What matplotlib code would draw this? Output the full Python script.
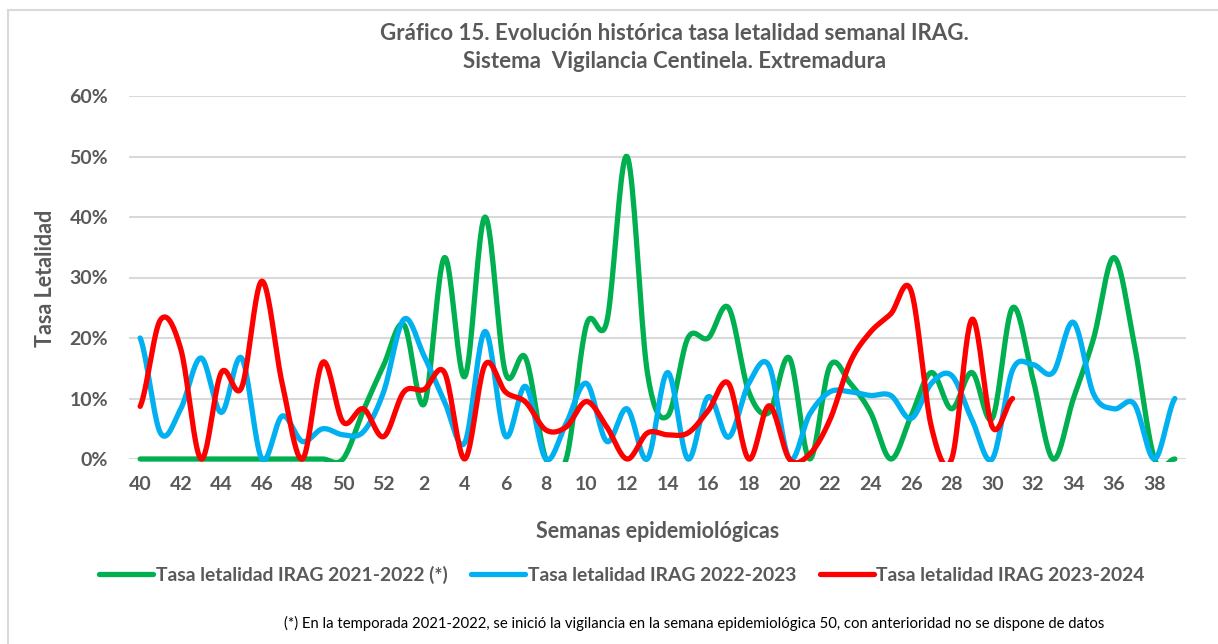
import numpy as np
import matplotlib
matplotlib.use('Agg')
import matplotlib.pyplot as plt
from matplotlib.lines import Line2D
from matplotlib.patches import Rectangle
from matplotlib.ticker import FuncFormatter

plt.rcParams['font.family'] = ['Lato', 'DejaVu Sans']

# semanas 40..52 y 1..39
semanas = list(range(40, 53)) + list(range(1, 40))

tasa_2122 = [0, 0, 0, 0, 0, 0, 0, 0, 0, 0, 0, 8, 15.5, 22.2, 9.1, 33.3, 13.6, 40.0, 14.3, 16.7,
             0, 0, 22.2, 22.7, 50.0, 14.3, 7.1, 20.0, 20.0, 25.0, 11.1, 7.7, 16.7, 0, 15.4, 12.5,
             7.7, 0, 7.1, 14.3, 8.3, 14.3, 6.7, 25.0, 13.3, 0, 10.0, 20.0, 33.3, 19.0, 0, 0]
tasa_2223 = [20.0, 4.3, 8.3, 16.7, 7.7, 16.7, 0, 7.1, 2.9, 5.0, 4.0, 4.5, 11.1, 23.1, 17.0, 9.5,
             2.7, 21.1, 3.8, 12.0, 0, 5.9, 12.5, 2.9, 8.3, 0, 14.3, 0, 10.3, 3.6, 12.5, 15.4, 0,
             7.4, 11.1, 11.1, 10.5, 10.5, 6.7, 12.5, 13.8, 6.5, 0, 14.7, 15.6, 14.3, 22.6, 10.7,
             8.3, 9.1, 0, 10.0]
tasa_2324 = [8.7, 23.0, 18.2, 0, 14.3, 11.8, 29.4, 12.5, 0, 16.0, 6.1, 8.3, 3.7, 11.1, 11.5, 14.3,
             0, 15.6, 11.1, 9.4, 4.8, 5.3, 9.5, 5.3, 0, 4.3, 4.0, 4.3, 8.0, 12.5, 0, 8.8, 0, 0.8,
             6.5, 16.0, 21.0, 24.0, 27.8, 5.3, 0, 23.1, 5.3, 10.0]

series = [
    ('Tasa letalidad IRAG 2021-2022 (*)', tasa_2122, '#00B050'),
    ('Tasa letalidad IRAG 2022-2023', tasa_2223, '#00B0F0'),
    ('Tasa letalidad IRAG 2023-2024', tasa_2324, '#FF0000'),
]


def suavizar(y, n=20):
    # curva tipo catmull-rom, como las lineas suavizadas de excel
    y = np.asarray(y, dtype=float) / 100
    x = np.arange(len(y), dtype=float)
    p = np.concatenate([[y[0]], y, [y[-1]]])
    xs, ys = [], []
    for i in range(len(y) - 1):
        p0, p1, p2, p3 = p[i], p[i + 1], p[i + 2], p[i + 3]
        t = np.linspace(0, 1, n, endpoint=False)
        yy = 0.5 * ((2 * p1) + (-p0 + p2) * t + (2 * p0 - 5 * p1 + 4 * p2 - p3) * t ** 2
                    + (-p0 + 3 * p1 - 3 * p2 + p3) * t ** 3)
        xs.append(x[i] + t)
        ys.append(yy)
    xs.append([x[-1]])
    ys.append([y[-1]])
    return np.concatenate(xs), np.concatenate(ys)


gris = '#595959'
fig = plt.figure(figsize=(12.18, 6.44), dpi=100)
ax = fig.add_axes([129 / 1218, 1 - 459 / 644, (1186 - 129) / 1218, (459 - 96) / 644])

# recorte un poco por debajo del 0% (excel recorta al area del grafico)
clip = Rectangle((-0.02, -0.008), 1.04, 1.1, transform=ax.transAxes, visible=False)
ax.add_patch(clip)
for nombre, vals, color in series:
    xs, ys = suavizar(vals)
    ln, = ax.plot(xs, ys, color=color, lw=3.8, solid_capstyle='round', zorder=3)
    ln.set_clip_path(clip)

ax.set_ylim(0, 0.6)
ax.set_xlim(-0.55, 51.55)
ax.set_yticks(np.arange(0, 0.61, 0.1))
ax.yaxis.set_major_formatter(FuncFormatter(lambda v, p: f'{v * 100:.0f}%'))
pos = list(range(0, len(semanas), 2))
ax.set_xticks(pos)
ax.set_xticklabels([str(semanas[i]) for i in pos])
ax.tick_params(length=0, labelsize=14, colors=gris)
ax.tick_params(axis='x', pad=12)
ax.tick_params(axis='y', pad=15)
for lab in ax.get_xticklabels() + ax.get_yticklabels():
    lab.set_fontweight('bold')
ax.grid(axis='y', color='#D9D9D9', lw=1.5)
ax.set_axisbelow(True)
for s in ax.spines.values():
    s.set_visible(False)

fig.text(674 / 1218, 1 - 33 / 644, 'Gráfico 15. Evolución histórica tasa letalidad semanal IRAG.',
         ha='center', va='center', fontsize=16, fontweight='bold', color=gris)
fig.text(675 / 1218, 1 - 62 / 644, 'Sistema  Vigilancia Centinela. Extremadura',
         ha='center', va='center', fontsize=16, fontweight='bold', color=gris)
fig.text(45 / 1218, 1 - 278 / 644, 'Tasa Letalidad', rotation=90, ha='center', va='center',
         fontsize=15.5, fontweight='bold', color=gris)
fig.text(658 / 1218, 1 - 532 / 644, 'Semanas epidemiológicas', ha='center', va='center',
         fontsize=15.5, fontweight='bold', color=gris)

handles = [Line2D([], [], color=c, lw=3.8, solid_capstyle='round') for _, _, c in series]
leg = fig.legend(handles, [s[0] for s in series], loc='center', ncol=3,
                 bbox_to_anchor=(622 / 1218, 1 - 575 / 644), frameon=False, handlelength=2.8,
                 handletextpad=0.15, columnspacing=1.2,
                 prop={'size': 13.9, 'weight': 'bold'})
for t in leg.get_texts():
    t.set_color(gris)

fig.text(284 / 1218, 1 - 623 / 644,
         '(*) En la temporada 2021-2022, se inició la vigilancia en la semana epidemiológica 50, '
         'con anterioridad no se dispone de datos',
         ha='left', va='center', fontsize=10.7, color='black')

fig.patches.append(Rectangle((8 / 1218, -0.1), 1.2, 1.1 - 10 / 644, transform=fig.transFigure,
                             fill=False, edgecolor='#D9D9D9', lw=1.5))

fig.savefig('out.png', dpi=100)
